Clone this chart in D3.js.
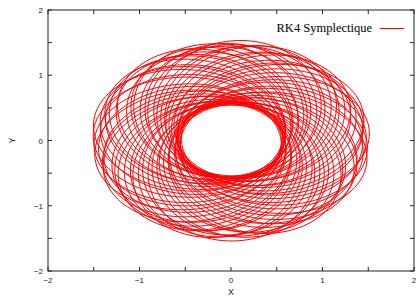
<!DOCTYPE html>
<html>
<head>
  <meta charset=utf-8 />
  <title>RK4 Symplectique</title>
  <script type="text/javascript" src="https://d3js.org/d3.v7.min.js"></script>
  <style>
    body { margin: 0; background: white; }
  </style>
  <script>
    var w = 418;
    var h = 297;

    // orbit loops: periapsis direction (deg), periapsis and apoapsis distance
    var loopAngles = [5.0, 11.2, 17.1, 23.5, 29.4, 35.8, 41.6, 47.9, 53.8, 60.2, 66.1, 72.4, 78.3, 84.7, 90.5,
      96.9, 102.8, 109.1, 115.0, 121.4, 127.3, 133.6, 139.5, 145.9, 151.7, 158.1, 164.0, 170.3, 176.2, 182.6,
      188.4, 194.8, 200.7, 207.0, 212.9, 219.3, 225.2, 231.5, 237.4, 243.8, 249.6, 256.0, 261.9, 268.2, 274.1,
      280.5, 286.4, 292.7, 298.6, 305.0, 310.8, 317.2, 323.1, 329.4, 335.3, 341.7, 347.6, 353.9];
    var periapsis = [0.55, 0.57, 0.54, 0.58, 0.56, 0.55, 0.59, 0.56, 0.54, 0.57, 0.58, 0.55, 0.56, 0.59, 0.54,
      0.57, 0.55, 0.58, 0.56, 0.54, 0.57, 0.59, 0.55, 0.56, 0.58, 0.54, 0.57, 0.55, 0.59, 0.56,
      0.54, 0.58, 0.57, 0.55, 0.56, 0.59, 0.54, 0.57, 0.58, 0.55, 0.56, 0.57, 0.54, 0.58, 0.55,
      0.57, 0.56, 0.54, 0.59, 0.55, 0.57, 0.58, 0.54, 0.56, 0.57, 0.55, 0.58, 0.56];
    var apoapsis = [1.50, 1.46, 1.52, 1.44, 1.49, 1.53, 1.45, 1.48, 1.51, 1.47, 1.43, 1.52, 1.49, 1.45, 1.54,
      1.47, 1.50, 1.44, 1.48, 1.53, 1.46, 1.43, 1.51, 1.49, 1.45, 1.54, 1.47, 1.50, 1.44, 1.48,
      1.52, 1.46, 1.49, 1.53, 1.47, 1.44, 1.51, 1.48, 1.45, 1.52, 1.50, 1.46, 1.54, 1.47, 1.49,
      1.45, 1.51, 1.48, 1.43, 1.53, 1.47, 1.50, 1.52, 1.46, 1.49, 1.54, 1.44, 1.51];

    var xTicks = [-2, -1.5, -1, -0.5, 0, 0.5, 1, 1.5, 2];
    var xLabels = [-2, -1, 0, 1, 2];
    var yTicks = [-2, -1.5, -1, -0.5, 0, 0.5, 1, 1.5, 2];
    var yLabels = [-2, -1, 0, 1, 2];
    var seriesName = "RK4 Symplectique";

    function load() {
      var left = 48, right = 414, top = 10, bottom = 271;

      var x = d3.scaleLinear().domain([-2, 2]).range([left, right]);
      var y = d3.scaleLinear().domain([-2, 2]).range([bottom, top]);

      var svg = d3.select("#vis")
        .append("svg")
        .attr("width", w)
        .attr("height", h);

      svg.append("rect")
        .attr("width", w)
        .attr("height", h)
        .attr("fill", "white");

      var line = d3.line()
        .x(function(d) { return x(d[0]); })
        .y(function(d) { return y(d[1]); });

      // one ellipse per loop, focus at the origin
      function loopPoints(i) {
        var rp = periapsis[i], ra = apoapsis[i];
        var a = (rp + ra) / 2, e = (ra - rp) / (ra + rp);
        var p = a * (1 - e * e);
        var th0 = loopAngles[i] * Math.PI / 180;
        return d3.range(0, 361, 2).map(function(deg) {
          var phi = deg * Math.PI / 180;
          var r = p / (1 + e * Math.cos(phi));
          return [r * Math.cos(phi + th0), r * Math.sin(phi + th0)];
        });
      }

      svg.append("g")
        .selectAll("path")
        .data(d3.range(loopAngles.length))
        .enter()
        .append("path")
        .attr("d", function(i) { return line(loopPoints(i)); })
        .attr("fill", "none")
        .attr("stroke", "#ff0000")
        .attr("stroke-width", 1);

      // frame with inward ticks on all four sides
      var axisColor = "#222";
      svg.append("rect")
        .attr("x", left).attr("y", top)
        .attr("width", right - left).attr("height", bottom - top)
        .attr("fill", "none").attr("stroke", axisColor).attr("stroke-width", 1);

      var tl = 4;
      var ticks = svg.append("g").attr("stroke", axisColor).attr("stroke-width", 1);
      xTicks.forEach(function(t) {
        ticks.append("line").attr("x1", x(t)).attr("x2", x(t)).attr("y1", bottom).attr("y2", bottom - tl);
        ticks.append("line").attr("x1", x(t)).attr("x2", x(t)).attr("y1", top).attr("y2", top + tl);
      });
      yTicks.forEach(function(t) {
        ticks.append("line").attr("y1", y(t)).attr("y2", y(t)).attr("x1", left).attr("x2", left + tl);
        ticks.append("line").attr("y1", y(t)).attr("y2", y(t)).attr("x1", right).attr("x2", right - tl);
      });

      var fmt = function(d) { return d < 0 ? "\u2212" + (-d) : String(d); };

      svg.append("g").selectAll("text")
        .data(xLabels).enter().append("text")
        .attr("x", function(d) { return x(d); })
        .attr("y", 283)
        .attr("text-anchor", "middle")
        .style("font", "8px 'Liberation Sans', sans-serif")
        .attr("fill", "#222")
        .text(fmt);

      svg.append("g").selectAll("text")
        .data(yLabels).enter().append("text")
        .attr("x", 43)
        .attr("y", function(d) { return y(d) + 3; })
        .attr("text-anchor", "end")
        .style("font", "8px 'Liberation Sans', sans-serif")
        .attr("fill", "#222")
        .text(fmt);

      svg.append("text")
        .attr("x", x(0)).attr("y", 295)
        .attr("text-anchor", "middle")
        .style("font", "9px 'Liberation Sans', sans-serif")
        .attr("fill", "#222")
        .text("X");

      svg.append("text")
        .attr("transform", "translate(15," + y(0) + ") rotate(-90)")
        .attr("text-anchor", "middle")
        .style("font", "9px 'Liberation Sans', sans-serif")
        .attr("fill", "#222")
        .text("Y");

      // legend
      svg.append("text")
        .attr("x", 372).attr("y", 32)
        .attr("text-anchor", "end")
        .style("font", "12.5px 'Liberation Serif', serif")
        .attr("fill", "#000")
        .text(seriesName);
      svg.append("line")
        .attr("x1", 380).attr("x2", 404).attr("y1", 28.5).attr("y2", 28.5)
        .attr("stroke", "#ff0000").attr("stroke-width", 1);
    }
  </script>
</head>
<body onload="load()">
  <div id="vis"></div>
</body>
</html>
